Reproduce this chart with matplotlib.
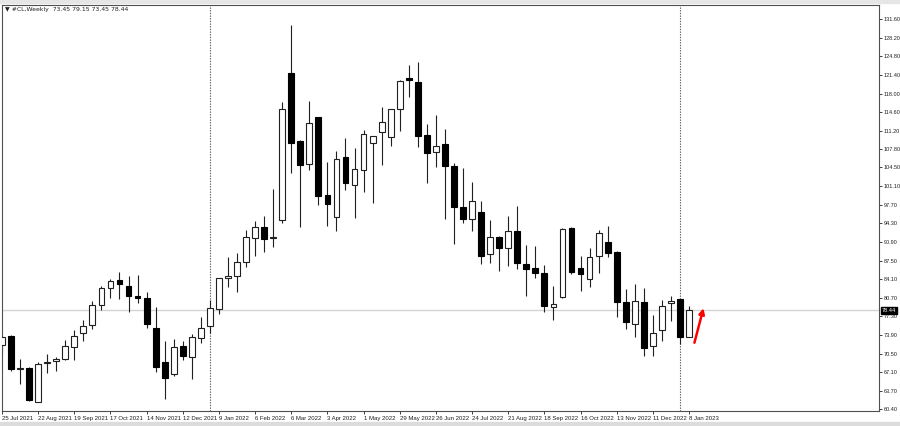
#!/usr/bin/env python3
"""
Weekly #CL candlestick chart, drawn MT4-style.
"""

import matplotlib
matplotlib.use("Agg")
import matplotlib.pyplot as plt
import numpy as np

# weekly bars, Jul 2021 .. Jan 2023
opens = [72.1, 73.8, 67.75, 67.9, 61.75, 68.75, 69.2, 69.6, 71.65, 74.35,
         75.75, 79.45, 82.55, 83.9, 82.8, 80.95, 80.6, 75.25, 69.05, 66.8,
         71.9, 69.85, 73.3, 75.55, 78.7, 84.25, 84.75, 87.3, 91.55, 93.7,
         91.6, 94.9, 121.8, 109.4, 105.05, 113.75, 99.45, 95.4, 106.45, 101.3,
         104.05, 108.9, 110.9, 110.1, 115.1, 120.75, 120.15, 110.4, 107.25, 108.8,
         104.75, 97.35, 95.05, 96.4, 88.7, 91.85, 89.75, 92.85, 86.8, 86.2,
         85.15, 79.1, 80.9, 93.4, 86.1, 84.1, 88.35, 90.95, 89.0, 80.0,
         75.85, 79.9, 71.9, 74.8, 79.8, 80.5, 73.45]
highs = [73.9, 73.9, 69.5, 68.0, 68.9, 70.5, 69.95, 73.0, 74.8, 76.6,
         80.15, 82.8, 84.1, 85.35, 84.75, 84.85, 81.7, 78.95, 72.8, 73.1,
         72.85, 74.1, 77.25, 80.3, 84.3, 88.1, 88.8, 93.1, 94.7, 95.7,
         100.5, 116.5, 130.5, 109.6, 116.7, 113.8, 105.55, 107.55, 109.8, 108.0,
         111.35, 110.3, 115.6, 115.2, 120.4, 123.2, 123.8, 112.45, 114.05, 111.45,
         105.25, 104.35, 101.9, 98.45, 94.9, 91.9, 95.65, 97.5, 90.35, 90.15,
         86.7, 82.85, 93.4, 93.7, 88.35, 89.75, 93.1, 93.8, 89.2, 82.25,
         83.2, 82.45, 77.55, 80.3, 81.05, 80.55, 79.15]
lows = [70.4, 67.4, 65.0, 61.8, 61.7, 67.0, 67.35, 69.35, 69.35, 72.9,
        75.0, 78.45, 80.7, 80.5, 78.15, 79.7, 75.25, 67.2, 62.15, 66.4,
        69.35, 65.8, 72.5, 74.2, 77.75, 82.6, 81.8, 86.3, 88.35, 89.0,
        90.05, 94.3, 103.55, 93.6, 104.0, 97.65, 93.8, 92.95, 100.4, 95.2,
        100.05, 98.05, 104.95, 108.4, 111.15, 117.3, 108.3, 101.6, 104.55, 95.05,
        90.45, 94.3, 92.95, 86.85, 87.1, 85.6, 86.5, 85.9, 81.1, 84.25,
        78.05, 76.65, 80.6, 85.05, 82.0, 82.6, 85.3, 88.1, 77.15, 74.95,
        73.5, 70.05, 70.05, 72.85, 76.5, 72.25, 73.45]
closes = [73.6, 67.65, 67.95, 62.0, 68.6, 68.95, 69.6, 71.85, 73.8, 75.6,
          79.4, 82.45, 83.85, 83.15, 80.95, 80.6, 75.85, 68.0, 66.05, 71.8,
          70.05, 73.6, 75.15, 78.8, 84.25, 84.7, 87.2, 91.85, 93.7, 91.4,
          91.8, 115.1, 109.0, 104.95, 112.55, 99.35, 97.85, 106.0, 101.6, 104.15,
          110.55, 110.25, 112.75, 115.1, 120.35, 120.45, 110.25, 107.1, 108.45, 104.75,
          97.35, 95.05, 98.35, 88.4, 91.75, 89.85, 92.85, 87.1, 85.95, 85.15,
          79.25, 79.55, 93.25, 85.35, 85.05, 88.2, 92.5, 88.8, 80.0, 76.35,
          80.15, 71.5, 74.2, 79.2, 80.15, 73.6, 78.44]

date_labels = ["25 Jul 2021", "22 Aug 2021", "19 Sep 2021", "17 Oct 2021",
               "14 Nov 2021", "12 Dec 2021", "9 Jan 2022", "6 Feb 2022",
               "6 Mar 2022", "3 Apr 2022", "1 May 2022", "29 May 2022",
               "26 Jun 2022", "24 Jul 2022", "21 Aug 2022", "18 Sep 2022",
               "16 Oct 2022", "13 Nov 2022", "11 Dec 2022", "8 Jan 2023"]
price_ticks = ["131.60", "128.20", "124.80", "121.40", "118.00", "114.60",
               "111.20", "107.80", "104.50", "101.10", "97.70", "94.30",
               "90.90", "87.50", "84.10", "80.70", "77.30", "73.90",
               "70.50", "67.10", "63.70", "60.40"]
separators = [23, 75]      # first bar of 2022 and of 2023
last_price = 78.44
header = "\u25bc #CL,Weekly  73.45 79.15 73.45 78.44"

plt.rcParams["font.family"] = ["Liberation Sans", "DejaVu Sans"]

fig = plt.figure(figsize=(9.0, 4.26), dpi=100)
W, H = 900.0, 426.0
ax = fig.add_axes([1.7 / W, 1 - 411 / H, (879.3 - 1.7) / W, (411 - 4.5) / H])

o = np.array(opens)
h = np.array(highs)
l = np.array(lows)
c = np.array(closes)
x = np.arange(len(o))
up = c >= o

# wicks
ax.vlines(x, l, h, color="#202020", lw=0.8, zorder=2)

# bodies
bottom = np.minimum(o, c)
height = np.maximum(np.abs(c - o), 0.12)
ax.bar(x[up], height[up], bottom=bottom[up], width=0.64,
       color="white", edgecolor="#202020", linewidth=0.8, zorder=3)
ax.bar(x[~up], height[~up], bottom=bottom[~up], width=0.64,
       color="black", edgecolor="black", linewidth=0.8, zorder=3)

# current price line and period separators
ax.axhline(last_price, color="#d4d4d4", lw=1.0, zorder=1)
for s in separators:
    ax.axvline(s, color="#606060", lw=0.8, linestyle=(0, (1.2, 1.2)), zorder=1)

ax.set_xlim(-0.03, 97.05)
ax.set_ylim(60.03, 134.25)

ax.yaxis.tick_right()
ax.set_yticks([float(t) for t in price_ticks])
ax.set_yticklabels(price_ticks)
ax.set_xticks(np.arange(0, len(o), 4))
ax.set_xticklabels(date_labels, ha="left")
ax.tick_params(axis="y", length=2, width=0.6, pad=1.2, labelsize=4.0, colors="#202020")
ax.tick_params(axis="x", length=2, width=0.6, pad=1.5, labelsize=4.3, colors="#202020")
for sp in ax.spines.values():
    sp.set_color("#505050")
    sp.set_linewidth(0.8)

# last price box on the price scale
ax.annotate(f"{last_price:.2f}", xy=(1.0, last_price),
            xycoords=("axes fraction", "data"), xytext=(1.8, 0),
            textcoords="offset points", ha="left", va="center",
            fontsize=4.0, color="white",
            bbox=dict(boxstyle="square,pad=0.2", fc="black", ec="black"))

# red arrow after the last bar
ax.annotate("", xy=(77.6, 78.8), xytext=(76.6, 72.5),
            arrowprops=dict(arrowstyle="-|>", color="red", lw=1.8,
                            mutation_scale=8, shrinkA=0, shrinkB=0))

fig.text(5 / W, 1 - 10 / H, header, fontsize=4.4, va="center", ha="left",
         family=["DejaVu Sans"], color="#202020")

# window chrome bits at top and bottom
fig.patches.append(plt.Rectangle((0, 1 - 3 / H), 1, 3 / H, transform=fig.transFigure,
                                 color="#e6e6e6", zorder=0))
fig.patches.append(plt.Rectangle((0, 0), 1, 4 / H, transform=fig.transFigure,
                                 color="#dcdcdc", zorder=0))

fig.savefig("out.png", dpi=100)
